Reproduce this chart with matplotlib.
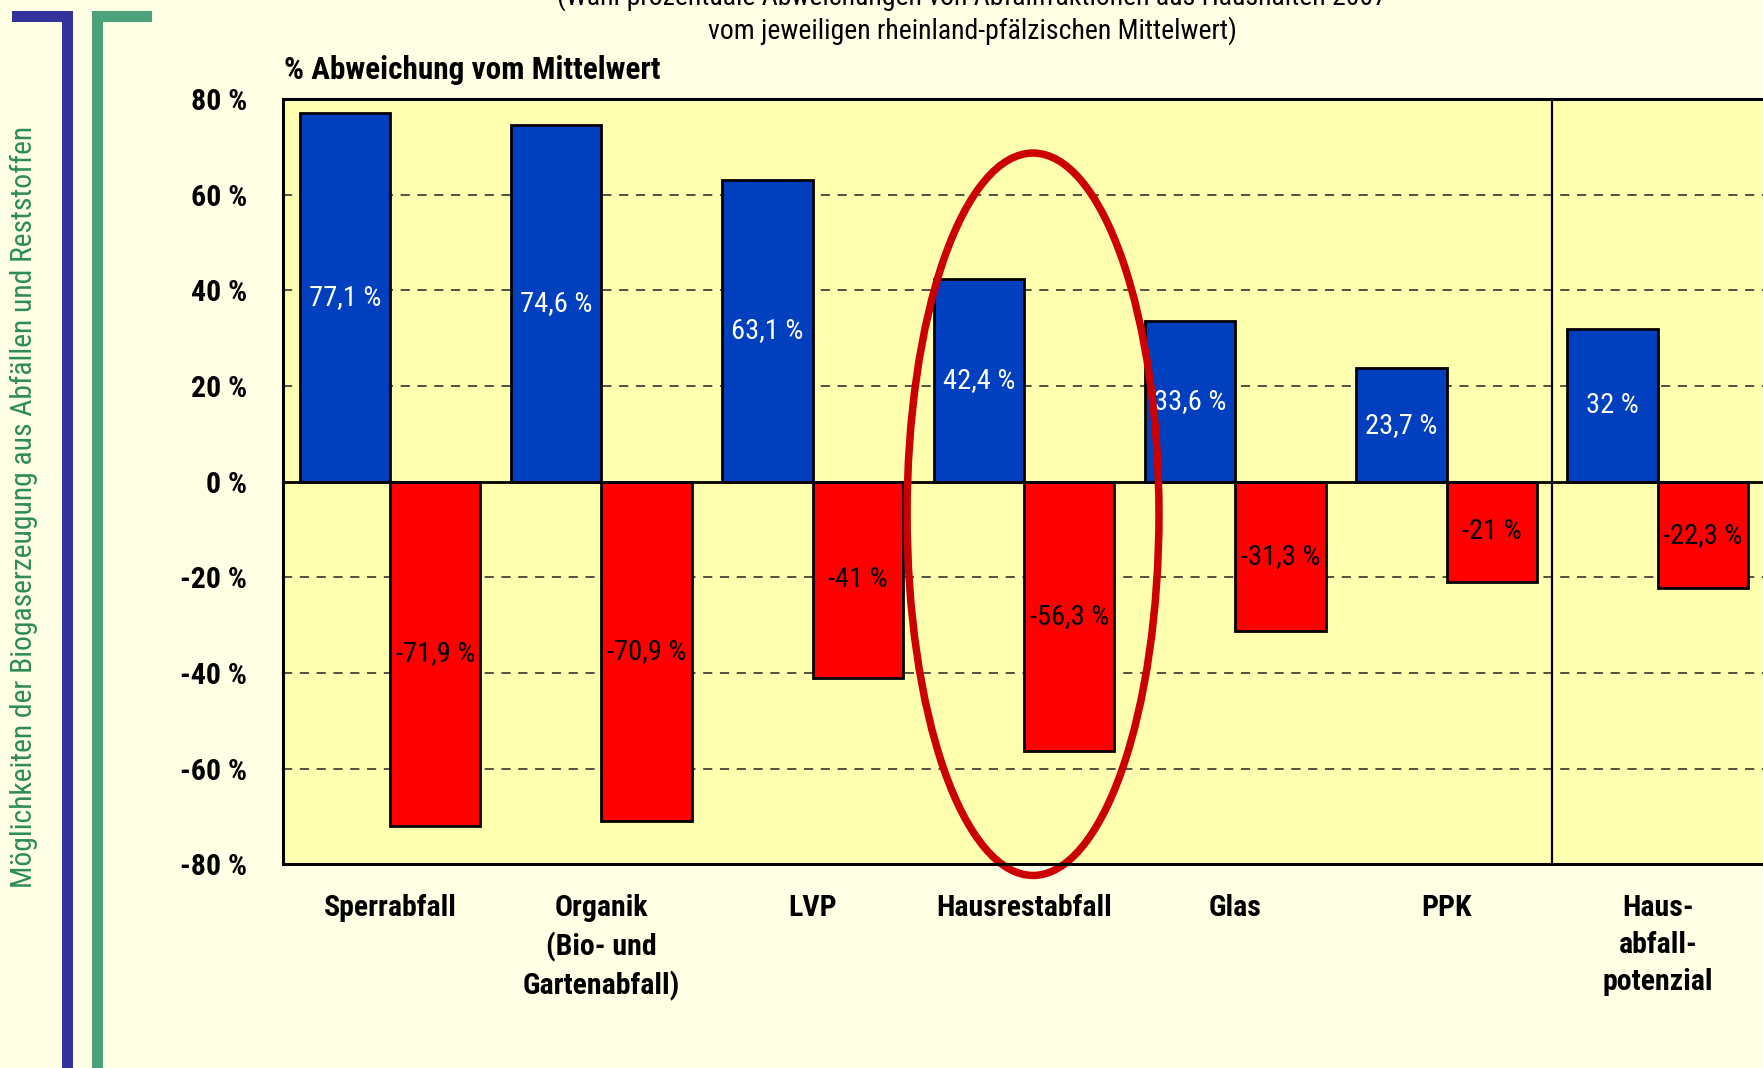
import numpy as np
import matplotlib
matplotlib.use("Agg")
import matplotlib.pyplot as plt
import matplotlib.patches as patches

# condensed face, falls back to Liberation if missing
narrow = ['Roboto Condensed', 'Archivo Narrow', 'Liberation Sans', 'DejaVu Sans']
plt.rcParams['font.family'] = narrow

## data
categories = ['Sperrabfall', 'Organik\n(Bio- und\nGartenabfall)', 'LVP', 'Hausrestabfall',
              'Glas', 'PPK', 'Haus-\nabfall-\npotenzial']
above = [77.1, 74.6, 63.1, 42.4, 33.6, 23.7, 32]      # blue, upper deviation
below = [-71.9, -70.9, -41, -56.3, -31.3, -21, -22.3]  # red, lower deviation
yticks = [-80, -60, -40, -20, 0, 20, 40, 60, 80]

title1 = '(Wahl-prozentuale Abweichungen von Abfallfraktionen aus Haushalten 2007'
title2 = 'vom jeweiligen rheinland-pfälzischen Mittelwert)'
ylab = '% Abweichung vom Mittelwert'
sidetext = 'Möglichkeiten der Biogaserzeugung aus Abfällen und Reststoffen'

figbg = '#FFFFE6'
axbg = '#FFFFB0'
blue = '#0040BF'
red = '#FF0000'

def fmt(v):
    return ('%g' % v).replace('.', ',') + ' %'

fig = plt.figure(figsize=(17.63, 10.68), dpi=100, facecolor=figbg)
ax = fig.add_axes([0.1607, 0.1906, 0.8402, 0.7167])
ax.set_facecolor(axbg)

x = np.arange(len(categories))
w = 0.428

# grid (not at zero)
for t in yticks:
    if t not in (0, 80, -80):
        ax.axhline(t, color='#222222', lw=1.1, dashes=(6, 5), zorder=1)

ax.bar(x - w/2, above, width=w, color=blue, edgecolor='black', linewidth=2, zorder=2)
ax.bar(x + w/2, below, width=w, color=red, edgecolor='black', linewidth=2, zorder=2)

for i in range(len(categories)):
    ax.text(x[i] - w/2, above[i]/2, fmt(above[i]), color='white', fontsize=20.5,
            ha='center', va='center', zorder=4)
    ax.text(x[i] + w/2, below[i]/2, fmt(below[i]), color='black', fontsize=20.5,
            ha='center', va='center', zorder=4)

ax.axhline(0, color='black', lw=2, zorder=3)
ax.axvline(5.5, color='black', lw=1.6, zorder=3)

# red ellipse round Hausrestabfall
ell = patches.Ellipse((3.043, -6.8), 1.192, 151, fill=False, edgecolor='#CC0000',
                      linewidth=5.4, zorder=5, clip_on=False)
ax.add_patch(ell)

ax.set_xlim(-0.505, 6.505)
ax.set_ylim(-80, 80)
ax.set_yticks(yticks)
ax.set_yticklabels([fmt(t) for t in yticks], fontsize=21.5, fontweight='bold')
ax.set_xticks(x)
ax.set_xticklabels(categories, fontsize=21.5, fontweight='bold', linespacing=1.42, va='top')
ax.tick_params(axis='y', length=0, pad=26)
ax.tick_params(axis='x', length=0, pad=21)
for s in ax.spines.values():
    s.set_linewidth(2.2)
    s.set_color('black')
    s.set_zorder(6)

# titles
fig.text(972/1763, 1 - (-3)/1068, title1, ha='center', va='center', fontsize=20)
fig.text(972/1763, 1 - 31/1068, title2, ha='center', va='center', fontsize=20)
fig.text(284/1763, 1 - 70/1068, ylab, ha='left', va='center', fontsize=22.5, fontweight='bold')

# left decoration brackets
W, H = 1763.0, 1068.0
def rect(x0, y0, x1, y1, c):
    fig.add_artist(patches.Rectangle((x0/W, 1 - y1/H), (x1-x0)/W, (y1-y0)/H,
                                     transform=fig.transFigure, color=c, lw=0))
rect(12, 11, 73, 22, '#333399')
rect(62, 11, 73, 1068, '#333399')
rect(92, 11, 152, 22, '#4AA37A')
rect(92, 11, 103, 1068, '#4AA37A')

fig.text(24/W, 1 - 507/H, sidetext, rotation=90, ha='center', va='center',
         fontsize=21.3, color='#2E8B57')

plt.savefig('out.png', dpi=100, facecolor=figbg)
